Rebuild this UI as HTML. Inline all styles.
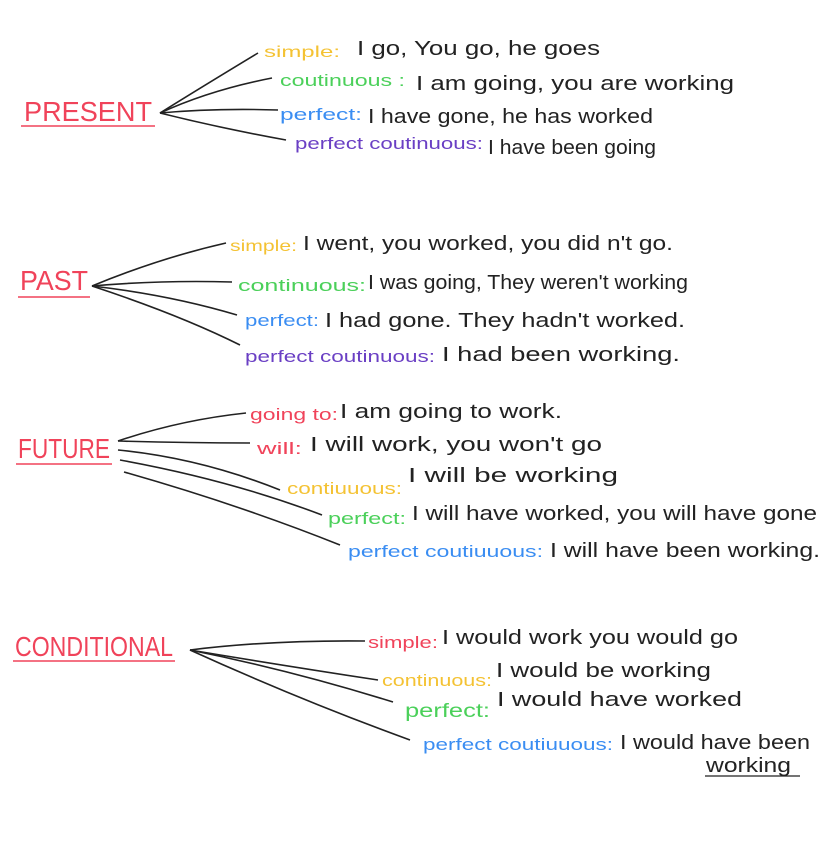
<!DOCTYPE html>
<html><head><meta charset="utf-8"><style>
html,body{margin:0;padding:0;background:#fff;width:828px;height:848px;overflow:hidden}
svg text{font-family:"Liberation Sans",sans-serif;font-weight:300}
.k{fill:#222;font-size:20px}
.r{fill:#f0435a;font-size:28px}
.y{fill:#f4c233;font-size:16px}
.g{fill:#4bd05a;font-size:17px}
.b{fill:#3a8df2;font-size:17px}
.p{fill:#6a3fc4;font-size:17px}
path,line{stroke:#222;stroke-width:1.6;fill:none}
.u{stroke:#f0435a;stroke-width:1.4}
</style></head><body>
<svg width="828" height="848" viewBox="0 0 828 848" xmlns="http://www.w3.org/2000/svg">
<!-- PRESENT -->
<text x="24" y="121" class="r" textLength="128" lengthAdjust="spacingAndGlyphs">PRESENT</text>
<line x1="21" y1="126" x2="155" y2="126" class="u"/>
<path d="M160 113 Q205 85 258 53"/>
<path d="M160 113 Q210 90 272 78"/>
<path d="M160 113 Q215 108 278 110"/>
<path d="M160 113 Q220 128 286 140"/>
<text x="264" y="57" class="y" textLength="76" lengthAdjust="spacingAndGlyphs">simple:</text>
<text x="357" y="55" class="k" textLength="243" lengthAdjust="spacingAndGlyphs">I go, You go, he goes</text>
<text x="280" y="86" class="g" textLength="125" lengthAdjust="spacingAndGlyphs">coutinuous :</text>
<text x="416" y="90" class="k" textLength="318" lengthAdjust="spacingAndGlyphs">I am going, you are working</text>
<text x="280" y="120" class="b" textLength="82" lengthAdjust="spacingAndGlyphs">perfect:</text>
<text x="368" y="123" class="k" textLength="285" lengthAdjust="spacingAndGlyphs">I have gone, he has worked</text>
<text x="295" y="149" class="p" textLength="188" lengthAdjust="spacingAndGlyphs">perfect coutinuous:</text>
<text x="488" y="154" class="k" textLength="168" lengthAdjust="spacingAndGlyphs">I have been going</text>
<!-- PAST -->
<text x="20" y="290" class="r" textLength="68" lengthAdjust="spacingAndGlyphs">PAST</text>
<line x1="18" y1="297" x2="90" y2="297" class="u"/>
<path d="M92 286 Q160 258 226 243"/>
<path d="M92 286 Q160 280 232 282"/>
<path d="M92 286 Q170 295 237 315"/>
<path d="M92 286 Q180 315 240 345"/>
<text x="230" y="251" class="y" textLength="67" lengthAdjust="spacingAndGlyphs">simple:</text>
<text x="303" y="250" class="k" textLength="370" lengthAdjust="spacingAndGlyphs">I went, you worked, you did n't go.</text>
<text x="238" y="291" class="g" textLength="128" lengthAdjust="spacingAndGlyphs">continuous:</text>
<text x="368" y="289" class="k" textLength="320" lengthAdjust="spacingAndGlyphs">I was going, They weren't working</text>
<text x="245" y="326" class="b" textLength="74" lengthAdjust="spacingAndGlyphs">perfect:</text>
<text x="325" y="327" class="k" textLength="360" lengthAdjust="spacingAndGlyphs">I had gone. They hadn't worked.</text>
<text x="245" y="362" class="p" textLength="190" lengthAdjust="spacingAndGlyphs">perfect coutinuous:</text>
<text x="442" y="361" class="k" textLength="238" lengthAdjust="spacingAndGlyphs">I had been working.</text>
<!-- FUTURE -->
<text x="18" y="458" class="r" textLength="92" lengthAdjust="spacingAndGlyphs">FUTURE</text>
<line x1="16" y1="464" x2="112" y2="464" class="u"/>
<path d="M118 441 Q180 420 246 413"/>
<path d="M118 441 Q185 443 250 443"/>
<path d="M118 450 Q200 458 280 490"/>
<path d="M120 460 Q230 480 322 515"/>
<path d="M124 472 Q240 505 340 545"/>
<text x="250" y="420" class="g" style="fill:#f0435a" textLength="88" lengthAdjust="spacingAndGlyphs">going to:</text>
<text x="340" y="418" class="k" textLength="222" lengthAdjust="spacingAndGlyphs">I am going to work.</text>
<text x="257" y="454" class="r" style="font-size:17px" textLength="45" lengthAdjust="spacingAndGlyphs">will:</text>
<text x="310" y="451" class="k" textLength="292" lengthAdjust="spacingAndGlyphs">I will work, you won't go</text>
<text x="287" y="494" class="y" style="font-size:17px" textLength="115" lengthAdjust="spacingAndGlyphs">contiuuous:</text>
<text x="408" y="482" class="k" textLength="210" lengthAdjust="spacingAndGlyphs">I will be working</text>
<text x="328" y="524" class="g" textLength="78" lengthAdjust="spacingAndGlyphs">perfect:</text>
<text x="412" y="520" class="k" textLength="405" lengthAdjust="spacingAndGlyphs">I will have worked, you will have gone</text>
<text x="348" y="557" class="b" textLength="195" lengthAdjust="spacingAndGlyphs">perfect coutiuuous:</text>
<text x="550" y="557" class="k" textLength="270" lengthAdjust="spacingAndGlyphs">I will have been working.</text>
<!-- CONDITIONAL -->
<text x="15" y="656" class="r" textLength="158" lengthAdjust="spacingAndGlyphs">CONDITIONAL</text>
<line x1="13" y1="661" x2="175" y2="661" class="u"/>
<path d="M190 650 Q270 640 365 641"/>
<path d="M190 650 Q280 665 378 680"/>
<path d="M190 650 Q290 670 393 702"/>
<path d="M190 650 Q300 700 410 740"/>
<text x="368" y="648" class="r" style="font-size:17px" textLength="70" lengthAdjust="spacingAndGlyphs">simple:</text>
<text x="442" y="644" class="k" textLength="296" lengthAdjust="spacingAndGlyphs">I would work you would go</text>
<text x="382" y="686" class="y" style="font-size:17px" textLength="110" lengthAdjust="spacingAndGlyphs">continuous:</text>
<text x="496" y="677" class="k" textLength="215" lengthAdjust="spacingAndGlyphs">I would be working</text>
<text x="405" y="717" class="g" style="font-size:19px" textLength="85" lengthAdjust="spacingAndGlyphs">perfect:</text>
<text x="497" y="706" class="k" textLength="245" lengthAdjust="spacingAndGlyphs">I would have worked</text>
<text x="423" y="750" class="b" textLength="190" lengthAdjust="spacingAndGlyphs">perfect coutiuuous:</text>
<text x="620" y="749" class="k" textLength="190" lengthAdjust="spacingAndGlyphs">I would have been</text>
<text x="706" y="772" class="k" textLength="85" lengthAdjust="spacingAndGlyphs">working</text>
<line x1="705" y1="776" x2="800" y2="776" style="stroke-width:1.2"/>
</svg>
</body></html>
